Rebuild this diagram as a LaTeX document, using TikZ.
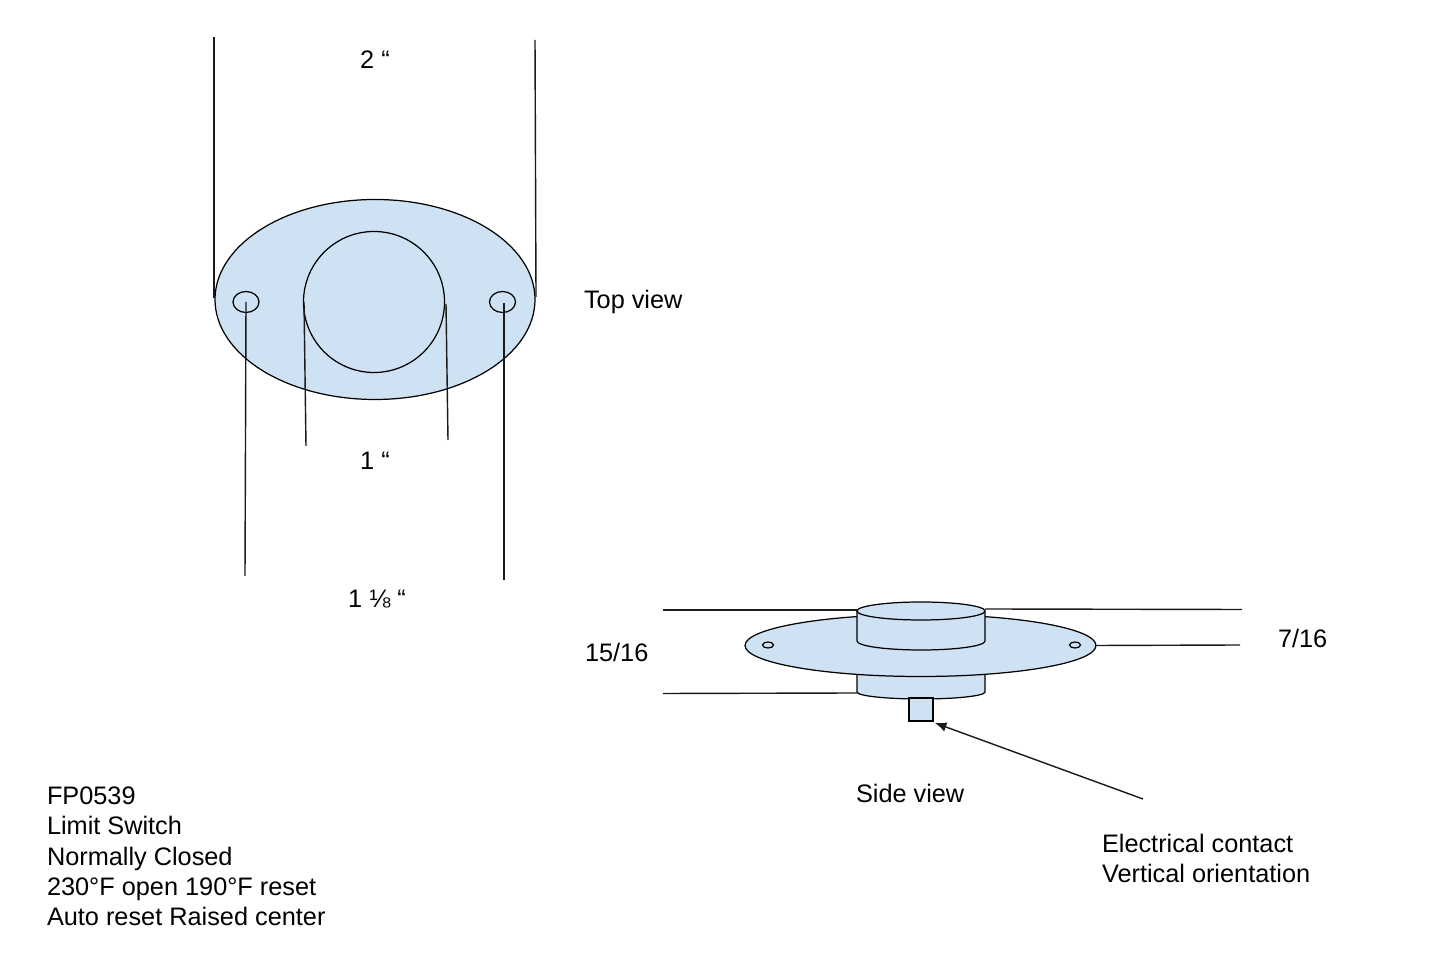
\documentclass[tikz,border=0pt]{standalone}
\usepackage{fontspec}
\setmainfont{Liberation Sans}
\usetikzlibrary{arrows.meta}
\definecolor{partblue}{HTML}{CFE2F3}
\definecolor{inkgray}{HTML}{1A1A1A}
\begin{document}
\begin{tikzpicture}[scale=2.0]
\tikzset{ >={Latex[length=6.5pt,width=5.5pt]}, inner sep=0pt, outer sep=0pt,
  part/.style={draw=black, fill=partblue, line width=0.7pt},
  dimline/.style={draw=inkgray, line width=0.8pt},
  lbl/.style={anchor=center, text=black, font=\fontsize{14.4}{17.2}\selectfont},
  lblleft/.style={lbl, anchor=west, align=left},
}
\useasboundingbox (0,0) rectangle (14.45,9.6);

% top view
\coordinate (Tplate) at (3.75,6.605);
\coordinate (Tdome) at (3.74,6.58);
\coordinate (Tholel) at (2.46,6.58);
\coordinate (Tholer) at (5.025,6.58);

\draw [part] (Tplate) ellipse [x radius=1.60, y radius=1.00];
\draw [part] (Tdome) circle [radius=0.705];
\draw [part] (Tholel) ellipse [x radius=0.13, y radius=0.105];
\draw [part] (Tholer) ellipse [x radius=0.13, y radius=0.105];

\coordinate (A1) at (2.14,9.23);
\coordinate (A2) at (2.14,6.62);
\coordinate (B1) at (5.35,9.20);
\coordinate (B2) at (5.36,6.63);
\coordinate (C1) at (2.45,3.84);
\coordinate (C2) at (2.46,6.58);
\coordinate (D1) at (3.06,5.14);
\coordinate (D2) at (3.04,6.58);
\coordinate (E1) at (4.48,5.20);
\coordinate (E2) at (4.46,6.56);
\coordinate (F1) at (5.04,3.80);
\coordinate (F2) at (5.04,6.57);

\draw [dimline] (A1) -- (A2);
\draw [dimline] (B1) -- (B2);
\draw [dimline] (C1) -- (C2);
\draw [dimline] (D1) -- (D2);
\draw [dimline] (E1) -- (E2);
\draw [dimline] (F1) -- (F2);

% side view
\coordinate (Splate) at (9.205,3.145);
\coordinate (Scap) at (9.21,3.49);
\coordinate (Sholel) at (7.68,3.15);
\coordinate (Sholer) at (10.75,3.15);

\draw [part] (8.57,3.00) -- (8.57,2.68) arc [start angle=180, end angle=360, x radius=0.64, y radius=0.07] -- (9.85,3.00) -- cycle;
\draw [part] (9.09,2.62) rectangle (9.33,2.39);
\draw [part] (Splate) ellipse [x radius=1.755, y radius=0.31];
\draw [part] (8.57,3.49) -- (8.57,3.19) arc [start angle=180, end angle=360, x radius=0.64, y radius=0.09] -- (9.85,3.49);
\draw [part] (Scap) ellipse [x radius=0.64, y radius=0.09];
\draw [part] (Sholel) ellipse [x radius=0.055, y radius=0.03];
\draw [part] (Sholer) ellipse [x radius=0.055, y radius=0.03];

\coordinate (G1) at (6.63,3.50);
\coordinate (G2) at (8.57,3.50);
\coordinate (H1) at (9.85,3.51);
\coordinate (H2) at (12.42,3.505);
\coordinate (J1) at (10.96,3.145);
\coordinate (J2) at (12.40,3.15);
\coordinate (K1) at (6.63,2.665);
\coordinate (K2) at (8.57,2.67);
\coordinate (L1) at (11.43,1.61);
\coordinate (L2) at (9.35,2.37);

\draw [dimline] (G1) -- (G2);
\draw [dimline] (H1) -- (H2);
\draw [dimline] (J1) -- (J2);
\draw [dimline] (K1) -- (K2);
\draw [dimline, ->] (L1) -- (L2);

% labels
\node [lbl] (two) at (3.75,9.00) {2 “};
\node [lbl] (one) at (3.75,4.99) {1 “};
\node [lbl] (oneeighth) at (3.77,3.61) {1 ⅛ “};
\node [lblleft] (top) at (5.84,6.58) {Top view};
\node [lblleft] (fifteen) at (5.85,3.08) {15/16};
\node [lblleft] (seven) at (12.78,3.22) {7/16};
\node [lblleft] (side) at (8.56,1.67) {Side view};
\node [lblleft] (contact) at (11.02,1.015) {Electrical contact\\Vertical orientation};
\node [lblleft] (info) at (0.47,1.035) {FP0539\\Limit Switch\\Normally Closed\\230°F open 190°F reset\\Auto reset Raised center};

\end{tikzpicture}
\end{document}
